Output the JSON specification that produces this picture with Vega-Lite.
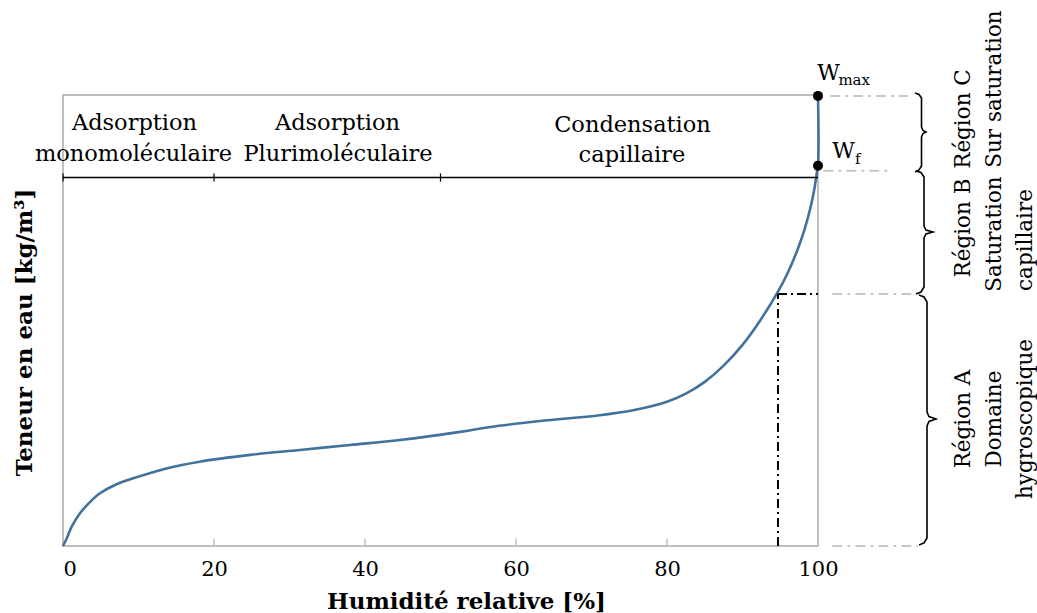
{
  "$schema": "https://vega.github.io/schema/vega-lite/v6.json",
  "width": 755,
  "height": 451,
  "autosize": {"type": "none"},
  "padding": {"left": 63, "top": 95, "right": 219, "bottom": 67},
  "background": "white",
  "config": {
    "view": {"stroke": "#bfbfbf", "strokeWidth": 2},
    "font": "DejaVu Serif",
    "text": {"font": "DejaVu Serif", "color": "black"}
  },
  "datasets": {
    "curve": [
      {"i": 0, "rh": 0, "w": 0},
      {"i": 1, "rh": 0.5, "w": 1.7},
      {"i": 2, "rh": 1.15, "w": 4.3},
      {"i": 3, "rh": 2.25, "w": 7.25},
      {"i": 4, "rh": 3.6, "w": 9.8},
      {"i": 5, "rh": 4.9, "w": 11.7},
      {"i": 6, "rh": 7.1, "w": 13.7},
      {"i": 7, "rh": 9.3, "w": 15.0},
      {"i": 8, "rh": 13.7, "w": 17.2},
      {"i": 9, "rh": 18.1, "w": 18.7},
      {"i": 10, "rh": 24.8, "w": 20.2},
      {"i": 11, "rh": 31.4, "w": 21.3},
      {"i": 12, "rh": 38.0, "w": 22.4},
      {"i": 13, "rh": 44.6, "w": 23.5},
      {"i": 14, "rh": 52.6, "w": 25.3},
      {"i": 15, "rh": 56.6, "w": 26.4},
      {"i": 16, "rh": 63.2, "w": 27.7},
      {"i": 17, "rh": 71.1, "w": 29.0},
      {"i": 18, "rh": 75.5, "w": 30.1},
      {"i": 19, "rh": 80.0, "w": 32.0},
      {"i": 20, "rh": 82.5, "w": 33.8},
      {"i": 21, "rh": 85.0, "w": 36.4},
      {"i": 22, "rh": 87.5, "w": 40.0},
      {"i": 23, "rh": 90.0, "w": 44.6},
      {"i": 24, "rh": 92.3, "w": 49.9},
      {"i": 25, "rh": 94.7, "w": 56.4},
      {"i": 26, "rh": 96.0, "w": 60.6},
      {"i": 27, "rh": 97.2, "w": 65.3},
      {"i": 28, "rh": 98.2, "w": 70.1},
      {"i": 29, "rh": 99.0, "w": 75.0},
      {"i": 30, "rh": 99.5, "w": 79.0},
      {"i": 31, "rh": 99.85, "w": 82.8},
      {"i": 32, "rh": 100, "w": 84.3},
      {"i": 33, "rh": 100, "w": 99.8}
    ],
    "bracket": [{"rh": 0, "rh2": 100, "w": 81.7}],
    "bracketTicks": [{"rh": 0, "w": 80.8, "w2": 82.6}, {"rh": 20, "w": 80.8, "w2": 82.6}, {"rh": 50, "w": 80.8, "w2": 82.6}],
    "axisTicks": [{"rh": 20, "w": 0, "w2": 1.6}, {"rh": 40, "w": 0, "w2": 1.6}, {"rh": 60, "w": 0, "w2": 1.6}, {"rh": 80, "w": 0, "w2": 1.6}],
    "hygro": [
      {"rh": 94.7, "w": 0, "rh2": 94.7, "w2": 55.9},
      {"rh": 94.7, "w": 55.9, "rh2": 100, "w2": 55.9}
    ],
    "ext": [
      {"rh": 101.6, "rh2": 111.9, "w": 99.8},
      {"rh": 100.7, "rh2": 109.3, "w": 83.2},
      {"rh": 101.9, "rh2": 113.1, "w": 55.9},
      {"rh": 101.9, "rh2": 113.2, "w": 0}
    ],
    "pts": [{"rh": 100, "w": 99.8}, {"rh": 100, "w": 84.3}],
    "wlab": [{"rh": 99.9, "w": 103.3, "t": "W"}, {"rh": 101.9, "w": 86.0, "t": "W"}],
    "wsub": [{"rh": 102.7, "w": 102.2, "t": "max"}, {"rh": 104.9, "w": 84.6, "t": "f"}],
    "band": [
      {"rh": 9.47, "w": 92.24, "t": "Adsorption"},
      {"rh": 9.34, "w": 85.37, "t": "monomoléculaire"},
      {"rh": 36.36, "w": 92.24, "t": "Adsorption"},
      {"rh": 36.42, "w": 85.37, "t": "Plurimoléculaire"},
      {"rh": 75.43, "w": 91.86, "t": "Condensation"},
      {"rh": 75.36, "w": 85.2, "t": "capillaire"}
    ],
    "regions": [
      {"rh": 119.4, "w": 94.68, "t": "Région C"},
      {"rh": 123.5, "w": 101.33, "t": "Sur saturation"},
      {"rh": 119.4, "w": 70.51, "t": "Région B"},
      {"rh": 123.5, "w": 69.18, "t": "Saturation"},
      {"rh": 127.5, "w": 67.85, "t": "capillaire"},
      {"rh": 119.4, "w": 28.16, "t": "Région A"},
      {"rh": 123.5, "w": 28.16, "t": "Domaine"},
      {"rh": 127.5, "w": 28.16, "t": "hygroscopique"}
    ],
    "braces": [
      {"b": "C", "i": 0, "rh": 112.85, "w": 100.44},
      {"b": "C", "i": 1, "rh": 113.38, "w": 100.11},
      {"b": "C", "i": 2, "rh": 113.71, "w": 99.33},
      {"b": "C", "i": 3, "rh": 113.71, "w": 92.9},
      {"b": "C", "i": 4, "rh": 113.91, "w": 92.13},
      {"b": "C", "i": 5, "rh": 114.3, "w": 91.8},
      {"b": "C", "i": 6, "rh": 113.91, "w": 91.46},
      {"b": "C", "i": 7, "rh": 113.71, "w": 90.69},
      {"b": "C", "i": 8, "rh": 113.71, "w": 84.26},
      {"b": "C", "i": 9, "rh": 113.38, "w": 83.37},
      {"b": "C", "i": 10, "rh": 112.85, "w": 82.93},
      {"b": "B", "i": 0, "rh": 112.98, "w": 83.15},
      {"b": "B", "i": 1, "rh": 113.64, "w": 82.82},
      {"b": "B", "i": 2, "rh": 114.04, "w": 81.82},
      {"b": "B", "i": 3, "rh": 114.04, "w": 70.95},
      {"b": "B", "i": 4, "rh": 114.3, "w": 70.07},
      {"b": "B", "i": 5, "rh": 115.23, "w": 69.62},
      {"b": "B", "i": 6, "rh": 114.3, "w": 69.18},
      {"b": "B", "i": 7, "rh": 114.04, "w": 68.29},
      {"b": "B", "i": 8, "rh": 114.04, "w": 57.43},
      {"b": "B", "i": 9, "rh": 113.64, "w": 56.32},
      {"b": "B", "i": 10, "rh": 112.98, "w": 55.88},
      {"b": "A", "i": 0, "rh": 113.38, "w": 55.65},
      {"b": "A", "i": 1, "rh": 114.04, "w": 55.21},
      {"b": "A", "i": 2, "rh": 114.44, "w": 54.1},
      {"b": "A", "i": 3, "rh": 114.44, "w": 29.71},
      {"b": "A", "i": 4, "rh": 114.7, "w": 28.71},
      {"b": "A", "i": 5, "rh": 115.63, "w": 28.16},
      {"b": "A", "i": 6, "rh": 114.7, "w": 27.61},
      {"b": "A", "i": 7, "rh": 114.44, "w": 26.61},
      {"b": "A", "i": 8, "rh": 114.44, "w": 1.77},
      {"b": "A", "i": 9, "rh": 114.04, "w": 0.67},
      {"b": "A", "i": 10, "rh": 113.38, "w": 0.22}
    ]
  },
  "encoding": {
    "x": {
      "field": "rh", "type": "quantitative",
      "scale": {"domain": [0, 100], "nice": false},
      "axis": {
        "values": [0, 20, 40, 60, 80, 100],
        "domain": false, "ticks": false, "grid": false,
        "labelFont": "DejaVu Serif", "labelFontSize": 21, "labelColor": "black",
        "labelPadding": 12,
        "labelAlign": {"condition": {"test": "datum.value == 0", "value": "left"}, "value": "center"},
        "title": "Humidité relative [%]",
        "titleFont": "DejaVu Serif", "titleFontSize": 23, "titleFontWeight": "bold", "titleColor": "black",
        "titleX": 403, "titleY": 62, "titleBaseline": "alphabetic", "titleAlign": "center"
      }
    },
    "y": {
      "field": "w", "type": "quantitative",
      "scale": {"domain": [0, 100], "nice": false},
      "axis": {
        "labels": false, "ticks": false, "domain": false, "grid": false,
        "title": "Teneur en eau [kg/m³]",
        "titleFont": "DejaVu Serif", "titleFontSize": 23, "titleFontWeight": "bold", "titleColor": "black",
        "titleX": -39, "titleY": 237, "titleAngle": -90, "titleBaseline": "middle", "titleAlign": "center"
      }
    }
  },
  "layer": [
    {
      "data": {"name": "curve"},
      "mark": {"type": "line", "color": "#41719C", "strokeWidth": 2.6, "interpolate": "catmull-rom"},
      "encoding": {
        "order": {"field": "i", "type": "quantitative"}
      }
    },
    {
      "data": {"name": "bracket"},
      "mark": {"type": "rule", "color": "black", "strokeWidth": 1.4},
      "encoding": {
        "x2": {"field": "rh2"}
      }
    },
    {
      "data": {"name": "bracketTicks"},
      "mark": {"type": "rule", "color": "black", "strokeWidth": 1.2},
      "encoding": {
        "y2": {"field": "w2"}
      }
    },
    {
      "data": {"name": "axisTicks"},
      "mark": {"type": "rule", "color": "#bfbfbf", "strokeWidth": 1.5},
      "encoding": {
        "y2": {"field": "w2"}
      }
    },
    {
      "data": {"name": "hygro"},
      "mark": {"type": "rule", "color": "black", "strokeWidth": 2, "strokeDash": [9, 4, 2, 4]},
      "encoding": {
        "x2": {"field": "rh2"},
        "y2": {"field": "w2"}
      }
    },
    {
      "data": {"name": "ext"},
      "mark": {"type": "rule", "color": "#c8c8c8", "strokeWidth": 2, "strokeDash": [10, 5, 3, 5]},
      "encoding": {
        "x2": {"field": "rh2"}
      }
    },
    {
      "data": {"name": "braces"},
      "mark": {"type": "line", "color": "black", "strokeWidth": 1.6},
      "encoding": {
        "detail": {"field": "b"},
        "order": {"field": "i", "type": "quantitative"}
      }
    },
    {
      "data": {"name": "pts"},
      "mark": {"type": "point", "filled": true, "color": "black", "size": 100, "opacity": 1}
    },
    {
      "data": {"name": "wlab"},
      "mark": {"type": "text", "fontSize": 22, "align": "left", "baseline": "alphabetic"},
      "encoding": {
        "text": {"field": "t"}
      }
    },
    {
      "data": {"name": "wsub"},
      "mark": {"type": "text", "fontSize": 15, "align": "left", "baseline": "alphabetic"},
      "encoding": {
        "text": {"field": "t"}
      }
    },
    {
      "data": {"name": "band"},
      "mark": {"type": "text", "fontSize": 22.5, "align": "center", "baseline": "alphabetic"},
      "encoding": {
        "text": {"field": "t"}
      }
    },
    {
      "data": {"name": "regions"},
      "mark": {"type": "text", "fontSize": 21.5, "align": "center", "baseline": "middle", "angle": 270},
      "encoding": {
        "text": {"field": "t"}
      }
    }
  ]
}
